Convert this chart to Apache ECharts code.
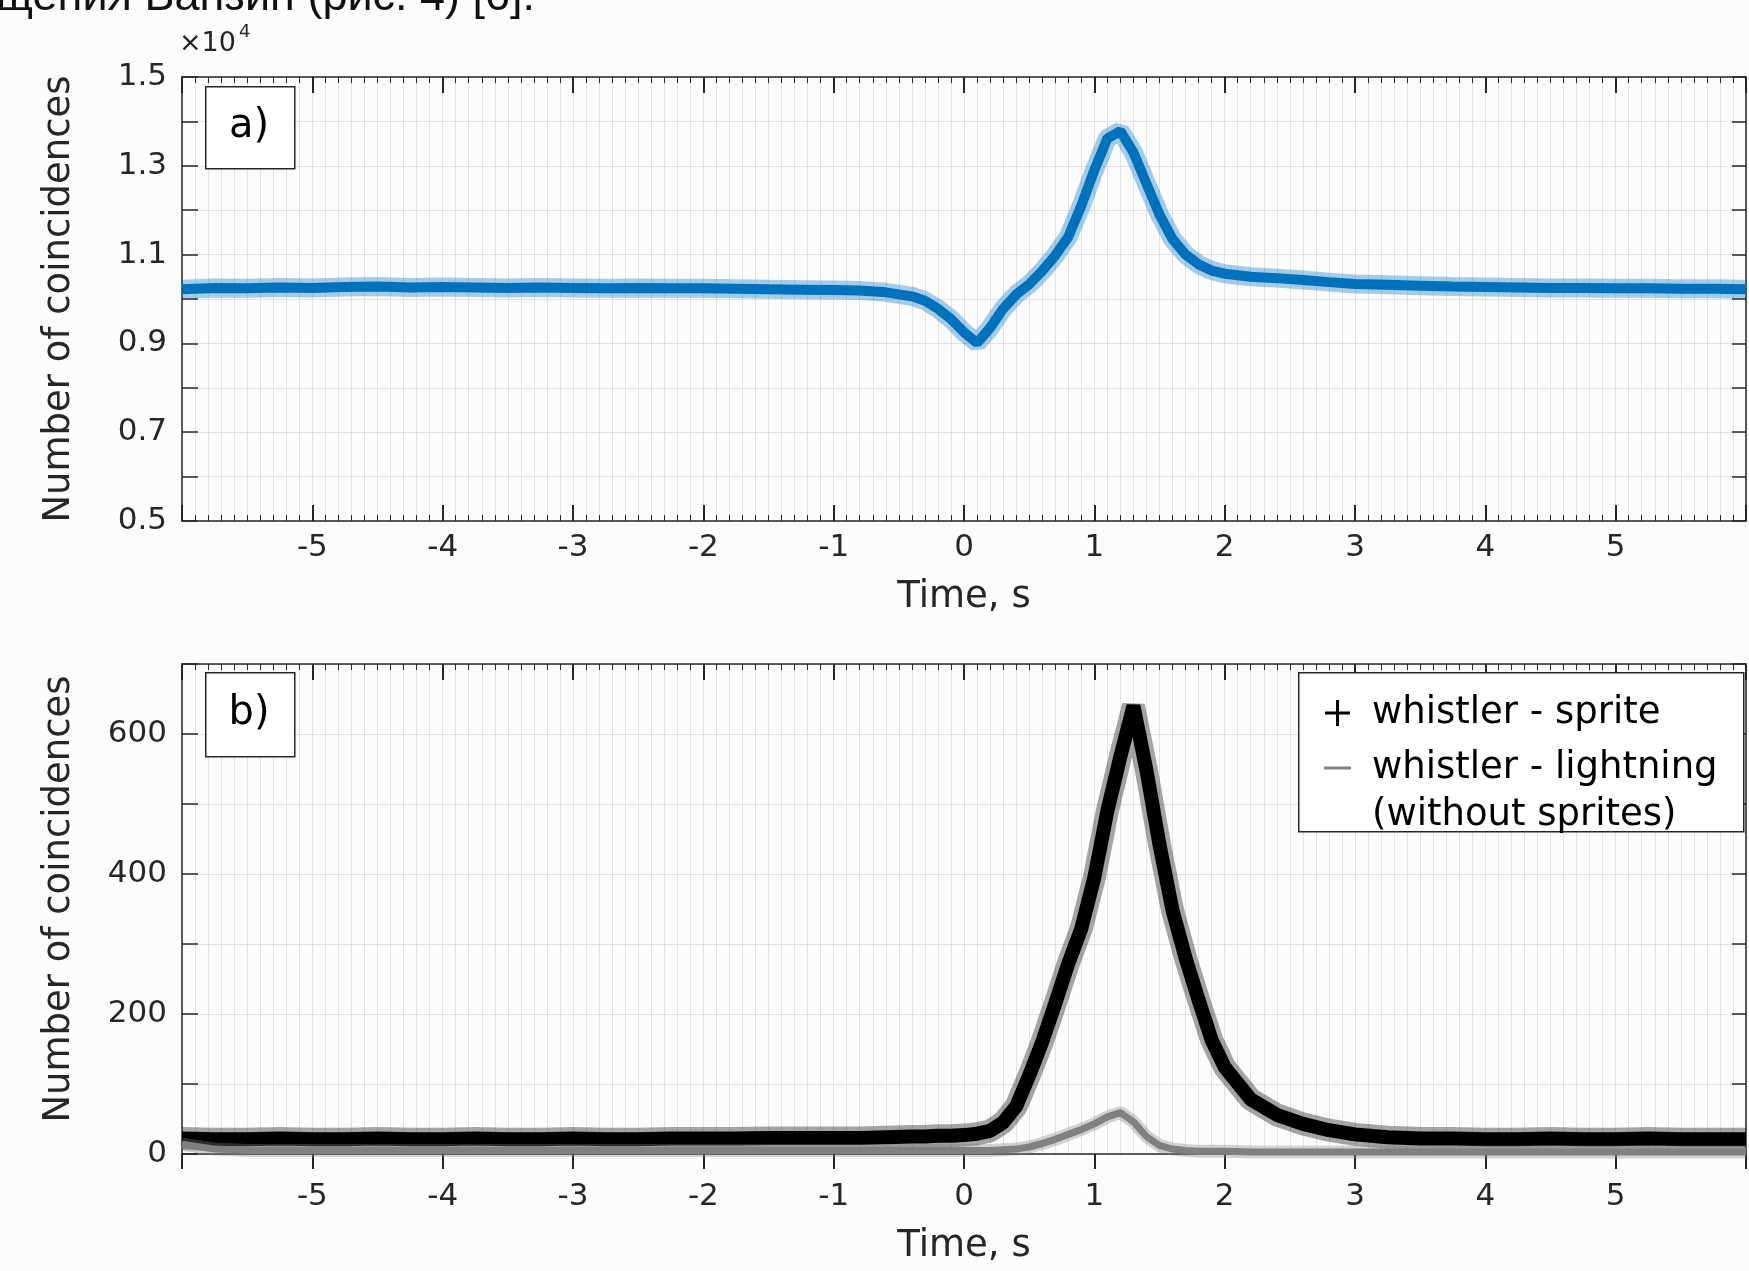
<!DOCTYPE html>
<html>
<head>
<meta charset="utf-8">
<title>Number of coincidences vs time</title>
<script src="https://cdn.jsdelivr.net/npm/echarts@6/dist/echarts.min.js"></script>
<style>
  html, body { margin: 0; padding: 0; background: #fcfcfc; }
  #chart { width: 1749px; height: 1271px; }
</style>
</head>
<body>
<div id="chart"></div>
<script>
// time of the bins, s (finer near the peak)
var timeS = [-6, -5.75, -5.5, -5.25, -5, -4.75, -4.5, -4.25, -4, -3.75, -3.5, -3.25, -3, -2.75, -2.5, -2.25, -2, -1.75, -1.5, -1.25, -1,
  -0.8, -0.6, -0.4,
  -0.3, -0.2, -0.1, 0, 0.1, 0.2, 0.3, 0.4, 0.5, 0.6, 0.7, 0.8, 0.9, 1, 1.1, 1.2, 1.3, 1.4, 1.5, 1.6, 1.7, 1.8, 1.9, 2,
  2.2, 2.4, 2.6, 2.8, 3,
  3.25, 3.5, 3.75, 4, 4.25, 4.5, 4.75, 5, 5.25, 5.5, 5.75, 6];

// a) all coincidences, in units of 10^4
var countsA = [1.022, 1.025, 1.024, 1.026, 1.025, 1.027, 1.028, 1.026, 1.027, 1.026, 1.025, 1.026, 1.025, 1.024, 1.025, 1.024, 1.024, 1.023, 1.022, 1.021, 1.020,
  1.019, 1.015, 1.006,
  0.996, 0.978, 0.955, 0.925, 0.901, 0.935, 0.978, 1.010, 1.033, 1.063, 1.098, 1.140, 1.210, 1.290, 1.362, 1.378, 1.330, 1.260, 1.190, 1.135, 1.100, 1.078, 1.064, 1.057,
  1.050, 1.047, 1.043, 1.038, 1.034,
  1.032, 1.030, 1.028, 1.027, 1.026, 1.025, 1.025, 1.024, 1.024, 1.023, 1.023, 1.022];

// b) whistler - sprite
var sprite = [22, 21, 21, 22, 21, 21, 22, 21, 21, 22, 21, 21, 22, 21, 21, 22, 22, 22, 23, 23, 23,
  23, 24, 25,
  25, 26, 26, 27, 29, 33, 45, 68, 112, 160, 215, 272, 322, 395, 490, 568, 640, 548, 442, 348, 280, 220, 163, 124,
  78, 56, 43, 34, 28,
  24, 22, 22, 21, 21, 22, 21, 21, 22, 21, 21, 21];

// b) whistler - lightning (without sprites)
var lightning = [14, 7, 5, 5, 5, 5, 5, 5, 5, 5, 5, 5, 5, 5, 5, 5, 5, 5, 5, 5, 5,
  5, 5, 5,
  5, 5, 5, 5, 5, 5, 6, 7, 10, 15, 21, 28, 35, 43, 53, 59, 46, 25, 12, 7, 5, 4, 4, 4,
  3, 3, 3, 3, 3,
  3, 3, 3, 3, 3, 3, 3, 3, 3, 3, 3, 3];

var xTickLabels = [-5, -4, -3, -2, -1, 0, 1, 2, 3, 4, 5];
var yTickLabelsA = ['0.5', '0.7', '0.9', '1.1', '1.3', '1.5'];
var yTickLabelsB = ['0', '200', '400', '600'];
var legendNames = ['whistler - sprite', 'whistler - lightning', '(without sprites)'];

var FONT = 'DejaVu Sans';
var AXIS_COLOR = '#262626';
var GRID_COLOR = '#e2e2e2';

function pairs(xs, ys) {
  var out = [];
  for (var i = 0; i < xs.length; i++) out.push([xs[i], ys[i]]);
  return out;
}

function timeAxis(gridIndex, position, main, tickOutside, labelMargin, nameGap) {
  return {
    type: 'value', gridIndex: gridIndex, position: position,
    min: -6, max: 6, interval: 1,
    name: main ? 'Time, s' : '', nameLocation: 'middle', nameGap: nameGap,
    nameTextStyle: { fontFamily: FONT, fontSize: 37, color: AXIS_COLOR },
    axisLine: { show: true, onZero: false, lineStyle: { color: AXIS_COLOR, width: 1.5 } },
    axisTick: { show: true, inside: !tickOutside, length: tickOutside ? 15 : 16, lineStyle: { color: AXIS_COLOR, width: 2 } },
    minorTick: { show: !tickOutside, splitNumber: 10, length: 6, lineStyle: { color: AXIS_COLOR, width: 1 } },
    splitLine: { show: main, lineStyle: { color: GRID_COLOR, width: 1 } },
    minorSplitLine: { show: main, lineStyle: { color: GRID_COLOR, width: 1 } },
    axisLabel: {
      show: main, margin: labelMargin, fontFamily: FONT, fontSize: 31, color: AXIS_COLOR,
      formatter: function (v) { return xTickLabels.indexOf(v) >= 0 ? String(v) : ''; }
    }
  };
}

function countAxis(gridIndex, position, min, max, step, labels, fmt, namePad) {
  var main = position === 'left';
  return {
    type: 'value', gridIndex: gridIndex, position: position,
    min: min, max: max, interval: step,
    name: main ? 'Number of coincidences' : '', nameLocation: 'middle', nameGap: 104, nameRotate: 90,
    nameTextStyle: { fontFamily: FONT, fontSize: 37, color: AXIS_COLOR, padding: namePad },
    axisLine: { show: true, onZero: false, lineStyle: { color: AXIS_COLOR, width: 1.5 } },
    axisTick: { show: true, inside: true, length: main ? 16 : 14, lineStyle: { color: AXIS_COLOR, width: 1.5 } },
    splitLine: { show: main, lineStyle: { color: GRID_COLOR, width: 1 } },
    axisLabel: {
      show: main, margin: 15, fontFamily: FONT, fontSize: 31, color: AXIS_COLOR,
      formatter: function (v) { var s = fmt(v); return labels.indexOf(s) >= 0 ? s : ''; }
    }
  };
}

var fmtA = function (v) { return v.toFixed(1); };
var fmtB = function (v) { return String(Math.round(v)); };

var chart = echarts.init(document.getElementById('chart'), null, { renderer: 'canvas' });

var option = {
  animation: false,
  backgroundColor: '#fcfcfc',
  grid: [
    { left: 182, top: 77, width: 1569, height: 444 },
    { left: 182, top: 664, width: 1569, height: 490 }
  ],
  xAxis: [
    timeAxis(0, 'bottom', true, false, 11, 58),
    timeAxis(0, 'top', false, false, 0, 0),
    timeAxis(1, 'bottom', true, true, 27, 74),
    timeAxis(1, 'top', false, false, 0, 0)
  ],
  yAxis: [
    countAxis(0, 'left', 0.5, 1.5, 0.1, yTickLabelsA, fmtA, [0, 0, 0, 0]),
    countAxis(0, 'right', 0.5, 1.5, 0.1, yTickLabelsA, fmtA, [0, 0, 0, 0]),
    countAxis(1, 'left', 0, 700, 100, yTickLabelsB, fmtB, [0, 0, 0, 20]),
    countAxis(1, 'right', 0, 700, 100, yTickLabelsB, fmtB, [0, 0, 0, 0])
  ],
  series: [
    { type: 'line', xAxisIndex: 0, yAxisIndex: 0, data: pairs(timeS, countsA), showSymbol: false, silent: true,
      lineStyle: { color: '#0072BD', width: 19, opacity: 0.35 } },
    { type: 'line', xAxisIndex: 0, yAxisIndex: 0, data: pairs(timeS, countsA), showSymbol: false, silent: true,
      lineStyle: { color: '#0072BD', width: 10 } },
    { type: 'line', xAxisIndex: 2, yAxisIndex: 2, data: pairs(timeS, sprite), showSymbol: false, silent: true,
      lineStyle: { color: '#000000', width: 23, opacity: 0.35 } },
    { type: 'line', xAxisIndex: 2, yAxisIndex: 2, data: pairs(timeS, sprite), showSymbol: false, silent: true,
      lineStyle: { color: '#000000', width: 14 } },
    { type: 'line', xAxisIndex: 2, yAxisIndex: 2, data: pairs(timeS, lightning), showSymbol: false, silent: true,
      lineStyle: { color: '#808080', width: 13, opacity: 0.35 } },
    { type: 'line', xAxisIndex: 2, yAxisIndex: 2, data: pairs(timeS, lightning), showSymbol: false, silent: true,
      lineStyle: { color: '#808080', width: 7 } }
  ],
  graphic: [
    // clipped line of the surrounding document text
    { type: 'text', left: -4, top: -25, z: 10,
      style: { text: 'щения Ванзин (рис. 4) [6].', font: '45px "Liberation Sans"', fill: '#111' } },
    { type: 'text', left: 179, top: 30, z: 10,
      style: { text: '×10', font: '27px "DejaVu Sans"', fill: AXIS_COLOR } },
    { type: 'text', left: 239, top: 23, z: 10,
      style: { text: '4', font: '18px "DejaVu Sans"', fill: AXIS_COLOR } },
    { type: 'rect', left: 205, top: 86, z: 10,
      shape: { width: 89, height: 82 }, style: { fill: '#ffffff', stroke: AXIS_COLOR, lineWidth: 1.5 } },
    { type: 'text', x: 249, y: 127, z: 11,
      style: { text: 'a)', font: '40px "DejaVu Sans"', fill: '#000', align: 'center', verticalAlign: 'middle' } },
    { type: 'rect', left: 205, top: 672, z: 10,
      shape: { width: 89, height: 84 }, style: { fill: '#ffffff', stroke: AXIS_COLOR, lineWidth: 1.5 } },
    { type: 'text', x: 249, y: 714, z: 11,
      style: { text: 'b)', font: '40px "DejaVu Sans"', fill: '#000', align: 'center', verticalAlign: 'middle' } },
    // legend
    { type: 'rect', left: 1298, top: 672, z: 10,
      shape: { width: 445, height: 159 }, style: { fill: '#ffffff', stroke: AXIS_COLOR, lineWidth: 1.5 } },
    { type: 'line', z: 11, shape: { x1: 1325, y1: 713, x2: 1350, y2: 713 }, style: { stroke: '#000', lineWidth: 3 } },
    { type: 'line', z: 11, shape: { x1: 1337.5, y1: 700, x2: 1337.5, y2: 726 }, style: { stroke: '#000', lineWidth: 3 } },
    { type: 'line', z: 11, shape: { x1: 1324, y1: 768, x2: 1351, y2: 768 }, style: { stroke: '#808080', lineWidth: 3 } },
    { type: 'text', x: 1372, y: 713, z: 11,
      style: { text: legendNames[0], font: '37px "DejaVu Sans"', fill: '#000', verticalAlign: 'middle' } },
    { type: 'text', x: 1372, y: 768, z: 11,
      style: { text: legendNames[1], font: '37px "DejaVu Sans"', fill: '#000', verticalAlign: 'middle' } },
    { type: 'text', x: 1372, y: 815, z: 11,
      style: { text: legendNames[2], font: '37px "DejaVu Sans"', fill: '#000', verticalAlign: 'middle' } }
  ]
};

chart.setOption(option);
</script>
</body>
</html>
